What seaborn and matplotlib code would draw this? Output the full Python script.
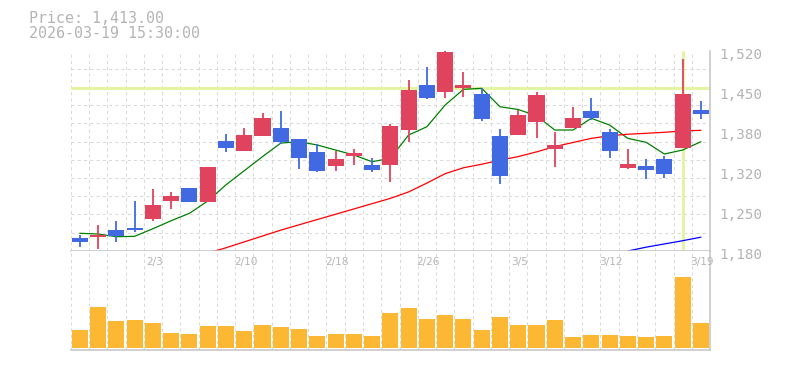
"""
candle_chart : daily candles with moving averages and volume
"""

import numpy as np
import seaborn as sns

import matplotlib
matplotlib.use('Agg')
import matplotlib.pyplot as plt
from matplotlib import transforms


# --- data --------------------------------------------------------------------
dates = ['1/28', '1/29', '1/30', '2/2', '2/3', '2/4', '2/5', '2/6', '2/9', '2/10',
         '2/12', '2/13', '2/16', '2/17', '2/18', '2/19', '2/20', '2/24', '2/25', '2/26',
         '2/27', '3/2', '3/3', '3/4', '3/5', '3/6', '3/9', '3/10', '3/11', '3/12',
         '3/13', '3/16', '3/17', '3/18', '3/19']

opens = [1202, 1203, 1215, 1219, 1234, 1265, 1287, 1263, 1366, 1350,
         1375, 1389, 1370, 1348, 1324, 1341, 1326, 1326, 1386, 1462,
         1450, 1457, 1446, 1375, 1377, 1398, 1353, 1389, 1417, 1382,
         1321, 1324, 1336, 1355, 1419]
highs = [1207, 1224, 1230, 1264, 1285, 1280, 1287, 1322, 1378, 1389,
         1414, 1417, 1370, 1361, 1349, 1353, 1337, 1395, 1470, 1492,
         1521, 1484, 1457, 1387, 1419, 1450, 1382, 1424, 1440, 1387,
         1353, 1336, 1341, 1506, 1434]
lows = [1186, 1183, 1195, 1211, 1231, 1251, 1262, 1263, 1348, 1350,
        1375, 1361, 1319, 1314, 1316, 1326, 1313, 1297, 1364, 1438,
        1440, 1442, 1401, 1294, 1377, 1372, 1322, 1389, 1402, 1338,
        1319, 1302, 1304, 1355, 1404]
closes = [1194, 1207, 1205, 1215, 1258, 1273, 1263, 1322, 1355, 1377,
          1406, 1364, 1338, 1316, 1336, 1346, 1318, 1392, 1453, 1440,
          1518, 1462, 1404, 1307, 1411, 1445, 1360, 1406, 1406, 1350,
          1327, 1318, 1311, 1446, 1413]

# volume in thousands of shares
volumes = [183, 413, 273, 283, 253, 153, 143, 223, 223, 173,
           233, 213, 193, 123, 143, 143, 123, 353, 403, 293,
           333, 293, 183, 313, 233, 233, 283, 113, 133, 133,
           123, 113, 123, 713, 253]

ma_short = [1209.6, 1208.4, 1203.8, 1204.5, 1217.4, 1231.0, 1243.6, 1264.5, 1292.0, 1316.0,
            1340.0, 1363.0, 1365.3, 1359.7, 1351.2, 1342.7, 1331.3, 1337.1, 1376.7, 1390.8,
            1427.7, 1454.4, 1456.1, 1424.8, 1420.0, 1409.5, 1385.2, 1385.2, 1405.1, 1393.7,
            1371.0, 1364.3, 1344.4, 1351.2, 1365.3]
ma_mid_start = 7
ma_mid = [1176, 1185, 1195, 1205, 1215, 1224, 1233, 1242, 1251, 1260,
          1269, 1280, 1295, 1311, 1321, 1327, 1334, 1340, 1348, 1357,
          1364, 1371, 1375.5, 1378, 1379.6, 1381.3, 1383.5, 1384.7]
ma_long_start = 30
ma_long = [1179.5, 1186, 1191.5, 1197, 1203]

marker_price = 1456
marker_index = 33

price_ticks = [1180, 1248, 1316, 1384, 1452, 1520]
price_labels = ['1,180', '1,250', '1,320', '1,380', '1,450', '1,520']
date_ticks = {4: '2/3', 9: '2/10', 14: '2/18', 19: '2/26', 24: '3/5', 29: '3/12', 34: '3/19'}

title_lines = ['Price: 1,413.00', '2026-03-19 15:30:00']

# --- style ---------------------------------------------------------------------
up_color = '#e0435d'
down_color = '#4169e1'
vol_color = '#fcb833'
mark_color = '#e3f4a4'
grid_color = '#d9d9d9'
frame_color = '#c4c4c4'
text_color = '#b4b4b4'

sns.set_theme(style='white')
plt.rcParams['font.family'] = ['DejaVu Sans Mono', 'DejaVu Sans']


def main():
    n = len(closes)
    idx = np.arange(n)
    o, h, l, c = map(np.asarray, (opens, highs, lows, closes))
    cols = np.where(c >= o, up_color, down_color)

    fig = plt.figure(figsize=(7.85, 3.70), dpi=100)
    ax = fig.add_axes([0.0901, 0.3224, 0.8144, 0.5405])
    axv = fig.add_axes([0.0901, 0.0532, 0.8144, 0.2692])

    # highlight lines
    ax.axhline(marker_price, color=mark_color, lw=2.2, zorder=1)
    ax.axvline(marker_index, ymin=0.005, ymax=0.995, color=mark_color, lw=2.2, zorder=1)

    # moving averages
    sns.lineplot(x=idx, y=ma_short, ax=ax, color='green', lw=0.9, zorder=2)
    sns.lineplot(x=idx[ma_mid_start:], y=ma_mid, ax=ax, color='red', lw=0.9, zorder=2)
    sns.lineplot(x=idx[ma_long_start:], y=ma_long, ax=ax, color='blue', lw=0.9, zorder=2)

    # candles
    ax.vlines(idx, l, h, colors=cols, lw=1.3, zorder=3)
    body_lo = np.minimum(o, c)
    body_h = np.maximum(np.abs(c - o), 1.8)
    ax.bar(idx, body_h, bottom=body_lo, width=0.88, color=cols, lw=0, zorder=4)

    # volume
    sns.barplot(x=idx, y=volumes, ax=axv, native_scale=True, color=vol_color,
                saturation=1, width=0.88, errorbar=None, lw=0, zorder=3)

    grid_kw = dict(color=grid_color, lw=0.75, ls=(0, (3, 3)))
    for a in (ax, axv):
        a.set_xlim(-0.5, n - 0.5)
        a.set_xticks(np.arange(-0.5, n - 1), minor=True)
        a.set_xticks([])
        a.grid(which='minor', axis='x', **grid_kw)
        a.set_axisbelow(True)
        a.set_xlabel('')
        a.set_ylabel('')
        a.set_facecolor('white')
        for side in ('top', 'left'):
            a.spines[side].set_visible(False)
        for side in ('bottom', 'right'):
            a.spines[side].set_color(frame_color)
            a.spines[side].set_linewidth(1.1)
        a.tick_params(which='both', length=0)

    ax.set_ylim(1180, 1520)
    ax.set_yticks(1180 + np.arange(1, 12) * 340 / 11, minor=True)
    ax.grid(which='minor', axis='y', **grid_kw)
    ax.yaxis.tick_right()
    ax.set_yticks(price_ticks)
    ax.set_yticklabels(price_labels, fontsize=10.3, color=text_color)
    ax.tick_params(axis='y', pad=7)
    shift = transforms.ScaledTranslation(0, -2.6 / 100, fig.dpi_scale_trans)
    for lab in ax.get_yticklabels():
        lab.set_transform(lab.get_transform() + shift)

    axv.set_ylim(-20, 976)
    axv.set_yticks([])

    for i, lab in date_ticks.items():
        axv.text(i + 0.08, 0.885, lab, transform=axv.get_xaxis_transform(),
                 ha='center', va='center', fontsize=7.6, color=text_color,
                 family='DejaVu Sans', clip_on=False, zorder=5)

    fig.text(29.3 / 785, 1 - 23.3 / 370, title_lines[0], fontsize=10.8,
             color=text_color, va='baseline')
    fig.text(29.3 / 785, 1 - 37.6 / 370, title_lines[1], fontsize=10.8,
             color=text_color, va='baseline')

    fig.savefig('out.png', dpi=100)
    plt.close(fig)


if __name__ == '__main__':
    main()
